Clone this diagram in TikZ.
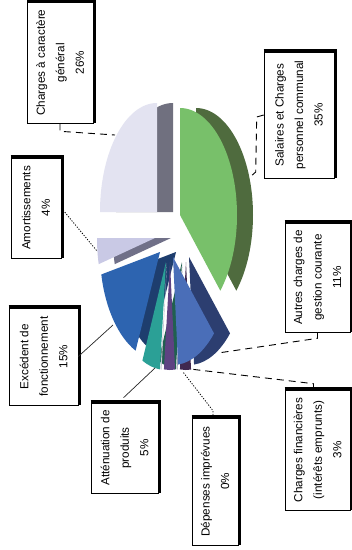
\documentclass[tikz,border=0pt]{standalone}
\usepackage{fontspec}
\setmainfont{Liberation Sans}
\definecolor{lavTop}{HTML}{E3E3F1}
\definecolor{lavSide}{HTML}{70707F}
\definecolor{amoTop}{HTML}{C9C9E5}
\definecolor{amoSide}{HTML}{707088}
\definecolor{excTop}{HTML}{2D64B0}
\definecolor{excSide}{HTML}{1E3E6E}
\definecolor{attTop}{HTML}{2BA096}
\definecolor{attSide}{HTML}{20604F}
\definecolor{cfTop}{HTML}{5E4282}
\definecolor{cfSide}{HTML}{40284F}
\definecolor{depTop}{HTML}{C4C4D2}
\definecolor{depSide}{HTML}{9A9AB0}
\definecolor{autTop}{HTML}{4A6EB8}
\definecolor{autSide}{HTML}{2C3E70}
\definecolor{salTop}{HTML}{78C06A}
\definecolor{salSide}{HTML}{4F6B3E}
% #1 Vx, #2 Vy, #3 t1, #4 t2 (image angles, clockwise), #5 a, #6 b, #7 top colour, #8 side colour
\newcommand\pslice[8]{%
  \fill[#8] ({#1+16},#2) -- ++({#5*cos(#3)},{#6*sin(#3)})
     arc[start angle={0-#3}, end angle={0-#4}, x radius=#5pt, y radius=#6pt] -- cycle;
  \fill[#7] (#1,#2) -- ++({#5*cos(#3)},{#6*sin(#3)})
     arc[start angle={0-#3}, end angle={0-#4}, x radius=#5pt, y radius=#6pt] -- cycle;
}
\begin{document}
\begin{tikzpicture}[x=1pt,y=-1pt,
  lbl/.style={draw=black, line width=0.6pt, rotate=90, align=center, inner sep=0pt,
              font=\fontsize{11.7}{19.5}\selectfont, text=black},
  shadowline/.style={line width=2.4pt, black},
  leaderdash/.style={draw=black, line width=0.9pt, dash pattern=on 7pt off 5pt},
  leaderdot/.style={draw=black, line width=0.8pt, dash pattern=on 1.2pt off 1.5pt},
  leadersolid/.style={draw=black!85, line width=0.7pt},
]
\useasboundingbox (0,0) rectangle (352,550);
\fill[white] (0,0) rectangle (352,550);

% ---- pie slices (back to front)
\pslice{157}{212}{180}{270}{57}{109}{lavTop}{lavSide}
\pslice{155}{238}{166}{180}{58}{108}{amoTop}{amoSide}
\pslice{160}{252}{114}{168}{60}{108}{excTop}{excSide}
\pslice{166}{262}{96}{114}{58}{108}{attTop}{attSide}
\pslice{170}{262}{85}{96}{58}{108}{cfTop}{cfSide}
\pslice{167}{263}{95.4}{96.4}{58}{107}{depTop}{depSide}
\pslice{173}{257}{45}{85}{58}{108}{autTop}{autSide}
\pslice{180}{215}{270}{405}{57}{107}{salTop}{salSide}

% ---- anchor points on the pie
\coordinate (pCg)  at (115,135);
\coordinate (pSal) at (249,178);
\coordinate (pAut) at (218,353);
\coordinate (pCF)  at (190,369);
\coordinate (pDep) at (183,372);
\coordinate (pAtt) at (155,368);
\coordinate (pExc) at (113,325);
\coordinate (pAm)  at (97,251);

% ---- labels
\node[lbl, minimum width=121pt, minimum height=66pt] (cg)  at (60,62.5)    {Charges à caractère\\général\\26\%};
\node[lbl, minimum width=126pt, minimum height=70pt] (sal) at (299,115)    {Salaires et Charges\\personnel communal\\35\%};
\node[lbl, minimum width=109pt, minimum height=65pt] (aut) at (317.5,277.5) {Autres charges de\\gestion courante\\11\%};
\node[lbl, minimum width=120pt, minimum height=65pt] (cf)  at (317.5,450)  {Charges financières\\(intérêts emprunts)\\3\%};
\node[lbl, minimum width=127pt, minimum height=46pt] (dep) at (215,481.5)  {Dépenses imprévues\\0\%};
\node[lbl, minimum width=90pt,  minimum height=67pt] (att) at (124.5,448)  {Atténuation de\\produits\\5\%};
\node[lbl, minimum width=97pt,  minimum height=69pt] (exc) at (43.5,356.5) {Excédent de\\fonctionnement\\15\%};
\node[lbl, minimum width=100pt, minimum height=50pt] (amo) at (36,208)     {Amortissements\\4\%};

% ---- shadows (top and right in the picture)
\foreach \n in {cg,sal,aut,cf,dep,att,exc,amo}{
  \draw[shadowline] ([yshift=1.2pt]\n.north east) -- ([xshift=1.2pt,yshift=1.2pt]\n.south east)
                    -- ([xshift=1.2pt]\n.south west);
}

% ---- leader lines
\draw[leaderdash] (cg.west) -- ++(0,8) -- (pCg);
\draw[leaderdash] (sal.north) -- ++(-7,2) -- ++(-1,55) -- (pSal);
\draw[leaderdash] (aut.west) -- ++(0,6) -- (pAut);
\draw[leaderdash] ([xshift=-4pt]cf.east) -- ++(0,-6) -- (pCF);
\draw[leaderdot]  ([xshift=-2pt]dep.east) -- ++(0,-7) -- (pDep);
\draw[leadersolid] ([xshift=-1pt,yshift=5pt]att.east) -- (pAtt);
\draw[leadersolid] (exc.south) -- (pExc);
\draw[leaderdot]  (amo.south) -- (pAm);
\end{tikzpicture}
\end{document}
